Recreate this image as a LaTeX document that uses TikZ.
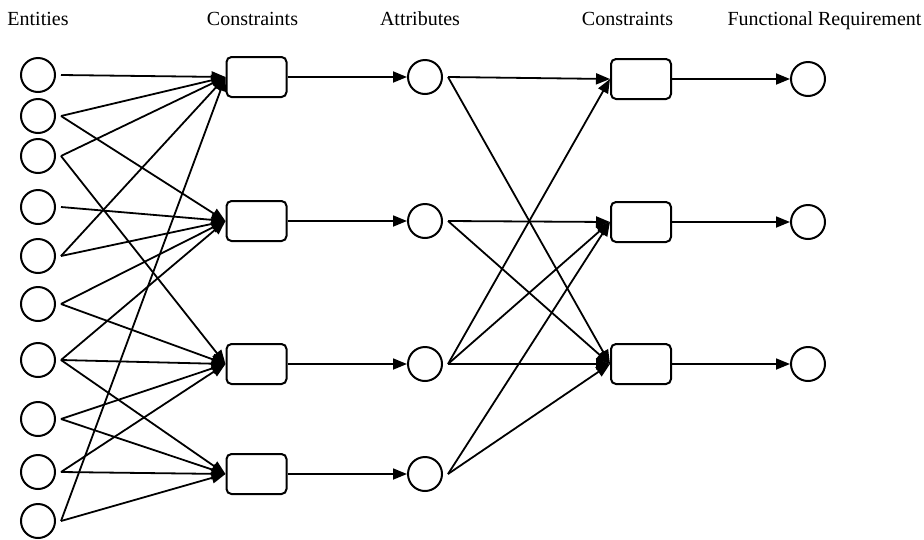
\documentclass[tikz,border=0pt]{standalone}
\usepackage{fontspec}
\setmainfont{Liberation Serif}
\usetikzlibrary{arrows.meta}

\tikzset{
  ent/.style={circle,draw,line width=2pt,minimum size=34pt,inner sep=0pt},
  cbox/.style={draw,rounded corners=5pt,line width=2pt,minimum width=60pt,minimum height=40pt,inner sep=0pt},
  link/.style={line width=1.8pt,-{Triangle[length=14pt,width=11pt]}},
  head/.style={font=\fontsize{20}{22}\selectfont,anchor=base}
}

\begin{document}
\begin{tikzpicture}[x=1pt,y=-1pt]
\useasboundingbox (0,0) rectangle (924,539);

\node[head] (tent) at (38,25) {Entities};
\node[head] (tcon) at (252.5,25) {Constraints};
\node[head] (tatt) at (420,25) {Attributes};
\node[head] (tcon2) at (627.5,25) {Constraints};
\node[head] (tfr) at (824.5,25) {Functional Requirement};

% entities
\foreach \i/\y in {1/75,2/116,3/156,4/207,5/256,6/304,7/360,8/419,9/472,10/521}{
  \node[ent] (e\i) at (38,\y) {};
  \coordinate (e\i o) at ([xshift=5pt]e\i.east);
}

% constraints and attributes
\foreach \i/\y in {1/77,2/221,3/364,4/474}{
  \node[cbox] (c\i) at (256.5,\y) {};
  \node[ent] (a\i) at (425,\y) {};
  \coordinate (a\i o) at ([xshift=5pt]a\i.east);
}

% second constraints and requirements
\foreach \i/\y in {1/79,2/222,3/364}{
  \node[cbox] (d\i) at (641,\y) {};
  \node[ent] (f\i) at (808,\y) {};
}

\foreach \s/\t in {1/1,2/1,2/2,3/1,3/3,4/2,5/1,5/2,6/2,6/3,7/2,7/3,7/4,8/3,8/4,9/3,9/4,10/1,10/4}
  \draw[link] (e\s o) -- (c\t.west);

\foreach \i in {1,...,4}
  \draw[link] (c\i) -- (a\i);

\foreach \s/\t in {1/1,1/3,2/2,2/3,3/1,3/2,3/3,4/2,4/3}
  \draw[link] (a\s o) -- (d\t.west);

\foreach \i in {1,2,3}
  \draw[link] (d\i) -- (f\i);
\end{tikzpicture}
\end{document}
